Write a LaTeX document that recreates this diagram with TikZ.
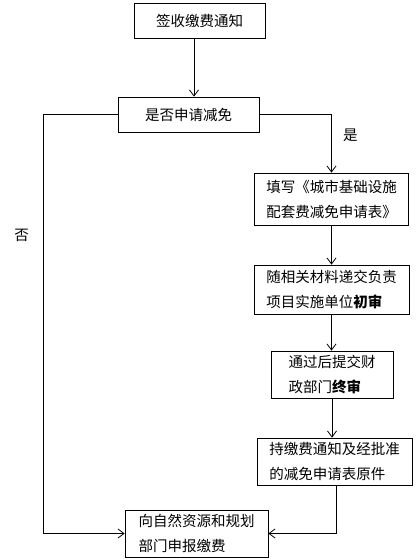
\documentclass[tikz,border=0pt]{standalone}
\usepackage{fontspec}
\setmainfont{Noto Sans CJK SC}
\usetikzlibrary{arrows.meta}

\begin{document}
\begin{tikzpicture}[x=1pt,y=-1pt,
  >={Straight Barb[length=6pt,width=9pt]},
  line width=0.8pt,
  font=\fontsize{14.5}{25}\selectfont,
  box/.style={draw,align=left,inner sep=0pt}]
\useasboundingbox (0,0) rectangle (420,560);

\node[box,minimum width=131pt,minimum height=35pt] (sign) at (199.5,20.5) {签收缴费通知};
\node[box,minimum width=141pt,minimum height=35pt] (ask) at (188.5,114.5) {是否申请减免};
\node[box,minimum width=154pt,minimum height=52pt] (fill) at (331.5,199) {填写《城市基础设施\\配套费减免申请表》};
\node[box,minimum width=155pt,minimum height=49pt] (submit) at (331.5,289.5) {随相关材料递交负责\\项目实施单位\textbf{初审}};
\node[box,minimum width=122pt,minimum height=47pt] (final) at (332,374.5) {通过后提交财\\政部门\textbf{终审}};
\node[box,minimum width=155pt,minimum height=47pt] (hold) at (334.5,461.5) {持缴费通知及经批准\\的减免申请表原件};
\node[box,minimum width=143pt,minimum height=47pt] (report) at (196.5,533.5) {向自然资源和规划\\部门申报缴费};

\draw[->] ([xshift=-5.5pt]sign.south) -- ([xshift=-5.5pt]sign.south |- ask.north);
\draw[->] (ask.east) -| (fill.north) node[pos=0.68,right=8pt] {是};
\draw[->] (fill.south) -- (submit.north);
\draw[->] (submit.south) -- (submit.south |- final.north);
\draw[->] (final.south) -- (final.south |- hold.north);
\draw[->] ([xshift=1.5pt]hold.south) |- (report.east);
\draw[->] (ask.west) -- ++(-74,0) |- (report.west) node[pos=0.144,left=11pt] {否};

\end{tikzpicture}
\end{document}
